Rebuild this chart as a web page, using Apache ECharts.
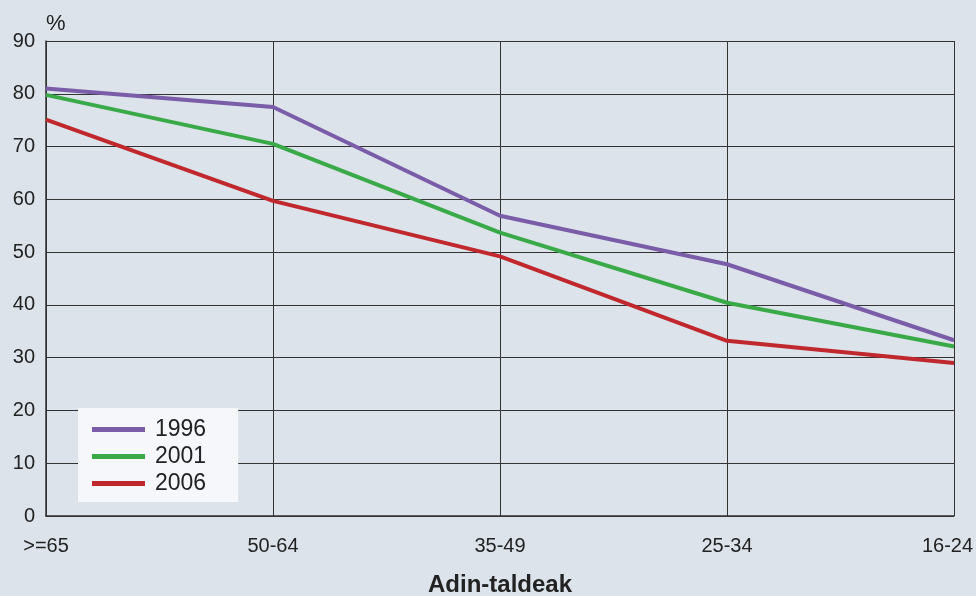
<!DOCTYPE html>
<html>
<head>
<meta charset="utf-8">
<script src="https://cdn.jsdelivr.net/npm/echarts@6/dist/echarts.min.js"></script>
<style>
html,body{margin:0;padding:0;background:#dce3ea;}
#c{width:976px;height:596px;}
</style>
</head>
<body>
<div id="c"></div>
<script>
var categories = ['>=65', '50-64', '35-49', '25-34', '16-24'];
var s1996 = [81.0, 77.5, 56.9, 47.7, 33.3];
var s2001 = [79.8, 70.5, 53.7, 40.4, 32.1];
var s2006 = [75.1, 59.7, 49.2, 33.2, 29.0];
var yTicks = [0, 10, 20, 30, 40, 50, 60, 70, 80, 90];

var font = 'Liberation Sans, Arial, sans-serif';
var chart = echarts.init(document.getElementById('c'));
function mk(name, data, color) {
  return {
    name: name, type: 'line', data: data, symbol: 'none',
    lineStyle: { color: color, width: 4 }, itemStyle: { color: color },
    z: 3, animation: false
  };
}
chart.setOption({
  backgroundColor: '#dce3ea',
  animation: false,
  grid: { left: 46, right: 22, top: 41, bottom: 80, containLabel: false, outerBoundsMode: 'none' },
  title: {
    text: '%', left: 41, top: 8,
    textStyle: { fontFamily: font, fontSize: 22, fontWeight: 'normal', color: '#222' }
  },
  legend: {
    orient: 'vertical', left: 78, top: 408,
    backgroundColor: '#f5f7fa', borderWidth: 0,
    padding: [10, 32, 7, 14],
    itemWidth: 53, itemHeight: 5, itemGap: 4,
    icon: 'rect',
    textStyle: { fontFamily: font, fontSize: 23, color: '#222', padding: [0, 0, 0, 5] },
    data: ['1996', '2001', '2006']
  },
  xAxis: {
    type: 'category', data: categories, boundaryGap: false,
    name: 'Adin-taldeak', nameLocation: 'middle', nameGap: 57,
    nameTextStyle: { fontFamily: font, fontSize: 24, fontWeight: 'bold', color: '#222' },
    axisLine: { lineStyle: { color: '#333', width: 1.5 } },
    axisTick: { show: false },
    axisLabel: {
      fontFamily: font, fontSize: 20, color: '#222', margin: 20, interval: 0,
      formatter: function (v, i) {
        return i === categories.length - 1 ? '{last|' + v + '}' : v;
      },
      rich: { last: { fontFamily: font, fontSize: 20, color: '#222', padding: [0, 13, 0, 0] } }
    },
    splitLine: { show: true, lineStyle: { color: '#333', width: 1 } }
  },
  yAxis: {
    type: 'value', min: 0, max: 90, interval: 10,
    axisLine: { show: true, lineStyle: { color: '#333', width: 1.5 } },
    axisTick: { show: false },
    axisLabel: {
      fontFamily: font, fontSize: 20, color: '#222', margin: 11,
      formatter: function (v) { return yTicks.indexOf(v) >= 0 ? String(v) : ''; }
    },
    splitLine: { show: true, lineStyle: { color: '#333', width: 1 } }
  },
  series: [
    mk('1996', s1996, '#7a5ca8'),
    mk('2001', s2001, '#3aaa48'),
    mk('2006', s2006, '#c1282e')
  ]
});
</script>
</body>
</html>
